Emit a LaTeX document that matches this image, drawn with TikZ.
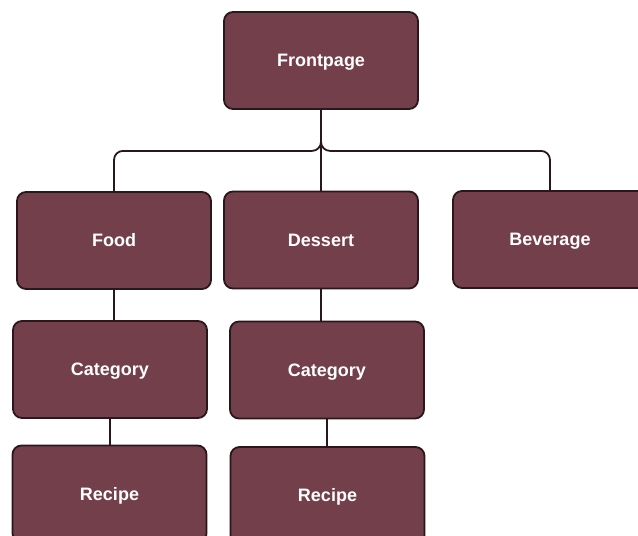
\documentclass[tikz,border=0pt]{standalone}
\usepackage{fontspec}
\setmainfont{Liberation Sans}
\usepackage{xcolor}
\usepackage{tikz}
\definecolor{boxfill}{HTML}{723F4A}
\definecolor{boxline}{HTML}{2A171B}
\tikzset{
  page/.style={draw=boxline, line width=1.8pt, fill=boxfill, rounded corners=9pt,
    minimum width=194pt, minimum height=97pt, text=white,
    text height=12.5pt, text depth=0pt,
    font=\fontsize{18}{21}\selectfont\bfseries},
  link/.style={draw=boxline, line width=1.8pt, rounded corners=9pt}
}
\begin{document}
\begin{tikzpicture}[x=1pt,y=-1pt]
      \useasboundingbox (0,0) rectangle (638,536);
      \node[page] (front) at (321,60.5) {Frontpage};
      \node[page] (food) at (114,240.5) {Food};
      \node[page] (dessert) at (321,240) {Dessert};
      \node[page] (beverage) at (550,239.5) {Beverage};
      \node[page] (cata) at (110,369.5) {Category};
      \node[page] (catb) at (327,370) {Category};
      \node[page] (recipea) at (109.5,494) {Recipe};
      \node[page] (recipeb) at (327.5,495.5) {Recipe};
      % tree lines
      \draw[link] (front.south) -- ++(0,41) -| (food.north);
      \draw[link] (front.south) -- ++(0,41) -| (beverage.north);
      \draw[link] (front.south) -- (dessert.north);
      \draw[link] (food.south) -- (food.south |- cata.north);
      \draw[link] (dessert.south) -- (dessert.south |- catb.north);
      \draw[link] (cata.south) -- (cata.south |- recipea.north);
      \draw[link] (catb.south) -- (catb.south |- recipeb.north);
    \end{tikzpicture}
\end{document}
